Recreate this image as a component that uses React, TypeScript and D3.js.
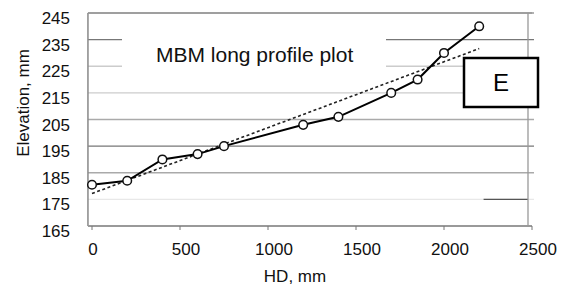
import React, { useRef, useEffect } from 'react';
import * as d3 from 'd3';

// survey points
const hd = [0, 200, 400, 600, 750, 1200, 1400, 1700, 1850, 2000, 2200];
const elevation = [180.5, 182, 190, 192, 195, 203, 206, 215, 220, 230, 240];
const yTicks = [165, 175, 185, 195, 205, 215, 225, 235, 245];
const xTicks = [0, 500, 1000, 1500, 2000, 2500];
const gridShade = ['#888', '#e8e8e8', '#aaa', '#777', '#aaa', '#ccc', '#ccc', '#777', '#999'];

const W = 561;
const H = 286;

const App = () => {
    const svgRef = useRef<SVGSVGElement>(null);

    useEffect(() => {
        const svg = d3.select(svgRef.current);
        svg.selectAll('*').remove();
        const font = 'Liberation Sans, Arial, sans-serif';

        const x = d3.scaleLinear().domain([0, 2500]).range([92, 532]);
        const y = d3.scaleLinear().domain([165, 245]).range([226, 13]);
        const left = x(-23), right = 528;

        // gridlines
        svg.append('g').selectAll('line')
            .data(yTicks.slice(1))
            .enter().append('line')
            .attr('x1', left).attr('x2', right + 6)
            .attr('y1', d => y(d)).attr('y2', d => y(d))
            .attr('stroke', (d, i) => gridShade[i + 1])
            .attr('stroke-width', 1.3);
        // darker piece on the 175 line
        svg.append('line')
            .attr('x1', x(2225)).attr('x2', right)
            .attr('y1', y(175)).attr('y2', y(175))
            .attr('stroke', '#555').attr('stroke-width', 1.3);

        // title area hides the grid behind it
        svg.append('rect')
            .attr('x', 122).attr('y', 28).attr('width', 264).attr('height', 47)
            .attr('fill', '#fff');
        svg.append('text')
            .attr('x', 156).attr('y', 62)
            .style('font-family', font).style('font-size', '21px').attr('fill', '#111')
            .text('MBM long profile plot');

        // frame
        svg.append('line').attr('x1', left).attr('x2', left).attr('y1', y(245)).attr('y2', y(165))
            .attr('stroke', '#888').attr('stroke-width', 1.5);
        svg.append('line').attr('x1', right).attr('x2', right).attr('y1', y(245)).attr('y2', y(165))
            .attr('stroke', '#999').attr('stroke-width', 1.3);
        svg.append('line').attr('x1', left).attr('x2', right + 4).attr('y1', y(245)).attr('y2', y(245))
            .attr('stroke', '#999').attr('stroke-width', 1.6);
        svg.append('line').attr('x1', left).attr('x2', right + 4).attr('y1', y(165)).attr('y2', y(165))
            .attr('stroke', '#999').attr('stroke-width', 2);

        // x ticks
        svg.append('g').selectAll('line')
            .data(xTicks)
            .enter().append('line')
            .attr('x1', d => x(d)).attr('x2', d => x(d))
            .attr('y1', y(165)).attr('y2', y(165) + 4)
            .attr('stroke', '#777').attr('stroke-width', 1);

        svg.append('g').selectAll('text')
            .data(xTicks)
            .enter().append('text')
            .attr('x', d => x(d) + (d === 0 ? 1 : 6)).attr('y', y(165) + 29)
            .attr('text-anchor', 'middle')
            .style('font-family', font).style('font-size', '17px').attr('fill', '#111')
            .text(d => d);

        svg.append('g').selectAll('text')
            .data(yTicks)
            .enter().append('text')
            .attr('x', 70).attr('y', d => y(d) + 11)
            .attr('text-anchor', 'end')
            .style('font-family', font).style('font-size', '17px').attr('fill', '#111')
            .text(d => d);

        // axis titles
        svg.append('text')
            .attr('x', 295).attr('y', 282)
            .attr('text-anchor', 'middle')
            .style('font-family', font).style('font-size', '17px').attr('fill', '#111')
            .text('HD, mm');
        svg.append('text')
            .attr('transform', 'translate(29,103) rotate(-90)')
            .attr('text-anchor', 'middle')
            .style('font-family', font).style('font-size', '17px').attr('fill', '#111')
            .text('Elevation, mm');

        // least squares trend
        const mx = d3.mean(hd) as number, my = d3.mean(elevation) as number;
        const slope = d3.sum(hd, (v, i) => (v - mx) * (elevation[i] - my)) / d3.sum(hd, v => (v - mx) ** 2);
        const icpt = my - slope * mx;
        const ends = [hd[0], hd[hd.length - 1]];
        svg.append('path')
            .datum(ends)
            .attr('d', d3.line<number>().x(d => x(d)).y(d => y(icpt + slope * d)))
            .attr('fill', 'none').attr('stroke', '#222')
            .attr('stroke-width', 1.6).attr('stroke-dasharray', '3,2.5');

        // profile
        const pts = hd.map((v, i) => [v, elevation[i]] as [number, number]);
        svg.append('path')
            .datum(pts)
            .attr('d', d3.line().x(d => x(d[0])).y(d => y(d[1])))
            .attr('fill', 'none').attr('stroke', '#000').attr('stroke-width', 2);
        svg.append('g').selectAll('circle')
            .data(pts)
            .enter().append('circle')
            .attr('cx', d => x(d[0])).attr('cy', d => y(d[1]))
            .attr('r', 4.3)
            .attr('fill', '#fff').attr('stroke', '#111').attr('stroke-width', 1.5);

        // panel label
        svg.append('rect')
            .attr('x', 464).attr('y', 58).attr('width', 74).attr('height', 49)
            .attr('fill', '#fff').attr('stroke', '#000').attr('stroke-width', 2.5);
        svg.append('text')
            .attr('x', 501).attr('y', 91)
            .attr('text-anchor', 'middle')
            .style('font-family', font).style('font-size', '24px').attr('fill', '#000')
            .text('E');
    }, []);

    return (
        <svg ref={svgRef} width={W} height={H}
            style={{ position: 'absolute', left: 0, top: 0, background: '#fff' }} />
    );
};

export default App;
